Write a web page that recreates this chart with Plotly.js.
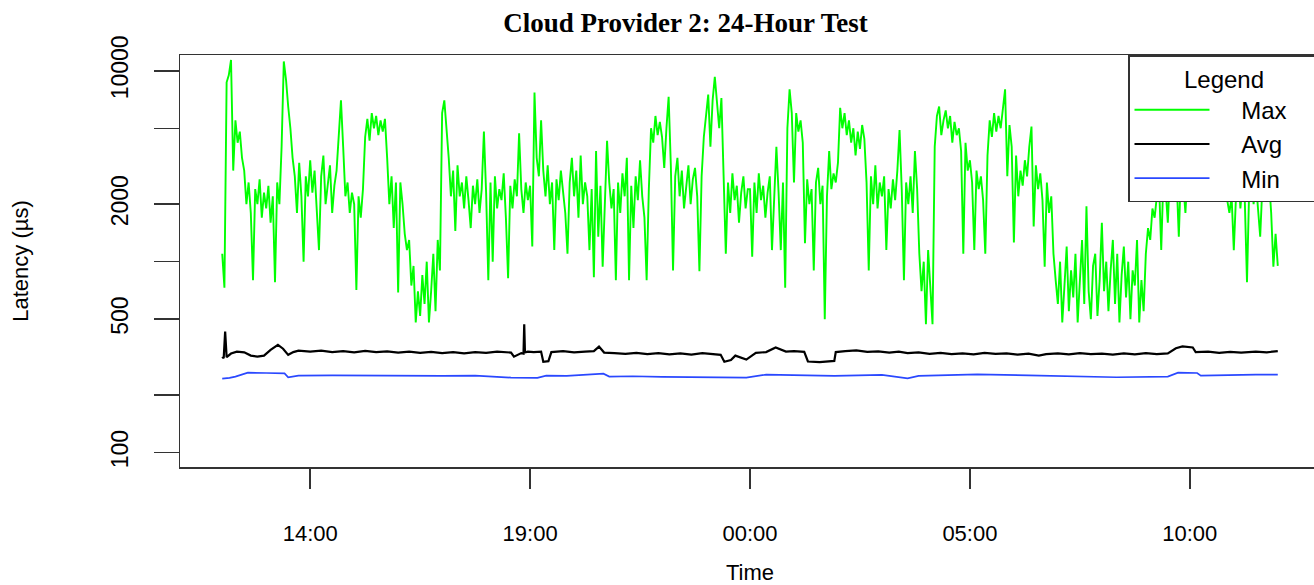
<!DOCTYPE html>
<html>
<head>
<meta charset="utf-8">
<script src="https://cdn.plot.ly/plotly-3.0.1.min.js"></script>
<style>
html,body{margin:0;padding:0;overflow:hidden;background:#fff;}
#chart{width:1330px;height:585px;}
</style>
</head>
<body>
<div id="chart"></div>
<script>
// ---- Data ----
const testStart = '2020-01-01T12:00:00Z';   // 12:00 on day 1, test runs 24 h
const maxStepMinutes = 3;                    // Max series sampled every 3 minutes

// Max latency (µs), 3-minute steps, one row per hour, 12:00 -> 12:00 next day
const maxValues = [
  1100, 730, 8700, 9500, 11400, 3000, 5500, 4200, 4800, 3500, 3000, 2000, 2600, 1800, 800, 2400, 2000, 2700, 1700, 2300,
  1900, 2500, 1600, 2200, 780, 2600, 2000, 4000, 11200, 9000, 6500, 5000, 3500, 2800, 1800, 3300, 2200, 1000, 2800, 2200,
  3400, 2300, 3000, 1900, 1150, 2800, 3600, 2000, 2600, 3200, 1800, 2500, 3000, 4500, 7000, 4000, 2200, 2600, 1800, 2300,
  2000, 710, 2200, 1700, 2400, 4500, 5600, 4300, 6000, 5000, 5800, 4600, 5500, 4800, 5600, 3500, 2000, 2800, 1500, 2600,
  690, 2600, 2000, 1400, 1150, 1300, 750, 950, 480, 700, 520, 850, 600, 1000, 480, 700, 1100, 550, 1300, 900,
  6000, 7000, 5000, 3500, 2200, 3000, 1450, 3200, 2200, 2600, 1900, 2800, 2100, 1500, 2500, 2000, 2700, 1800, 2400, 4800,
  2300, 800, 2600, 1000, 2800, 1900, 2400, 2100, 2900, 1700, 820, 2500, 1900, 2700, 2200, 4700, 2400, 1800, 2600, 2100,
  2500, 1200, 7700, 3500, 2800, 5500, 3000, 2200, 3200, 2000, 2600, 1150, 2700, 2100, 3000, 2400, 1800, 1100, 2600, 3500,
  2200, 3000, 1700, 3600, 2000, 2600, 2200, 1150, 2400, 830, 3800, 1350, 2500, 940, 2200, 4300, 2600, 1900, 2400, 800,
  2600, 1800, 2900, 2200, 3500, 800, 2500, 1500, 2800, 2100, 3400, 2200, 1700, 800, 2400, 5000, 4200, 5800, 4600, 5400,
  4500, 3100, 5000, 7300, 3200, 900, 2800, 3500, 2200, 3000, 1900, 2600, 3200, 2000, 2700, 3100, 2200, 890, 2800, 4500,
  6000, 7500, 4000, 7000, 9300, 6500, 5000, 7200, 3000, 1100, 2600, 1800, 2900, 2100, 2500, 1600, 2300, 2800, 1900, 2400,
  2400, 1060, 2600, 1800, 2900, 2100, 2500, 1700, 2300, 2800, 1150, 2000, 4000, 2300, 1150, 2600, 730, 5000, 8000, 6000,
  2600, 6000, 4800, 5500, 4200, 1250, 2700, 2000, 2400, 900, 2600, 3100, 2000, 2500, 500, 2200, 3800, 2400, 2900, 2600,
  3300, 6400, 5000, 6000, 4600, 5500, 4200, 5000, 3600, 4800, 3900, 5200, 4400, 2600, 900, 2800, 2000, 3200, 1900, 2600,
  2200, 2800, 1150, 2400, 1900, 2700, 2100, 3000, 4900, 2400, 800, 2600, 2000, 2800, 1800, 3800, 2400, 1100, 700, 1000,
  470, 1150, 700, 470, 4000, 5800, 6500, 4600, 5500, 6200, 5000, 5800, 4200, 5400, 4600, 5000, 3800, 1100, 4200, 3000,
  3400, 2600, 1150, 3000, 2400, 2800, 2100, 1100, 3600, 5500, 4500, 6000, 4800, 5800, 5000, 6500, 8000, 2800, 5200, 4000,
  1260, 3600, 2200, 3000, 2500, 3400, 2800, 4000, 5100, 1530, 3200, 2400, 2900, 2100, 940, 2600, 1800, 2200, 1100, 800,
  600, 1000, 480, 750, 1200, 550, 900, 650, 1100, 480, 800, 1300, 600, 1950, 700, 500, 950, 1100, 520, 800,
  1600, 700, 1000, 550, 900, 1300, 600, 1100, 480, 850, 1200, 650, 1000, 500, 900, 750, 1300, 480, 800, 550,
  1100, 1500, 1300, 1900, 1700, 2200, 2600, 1150, 2800, 2400, 1600, 3000, 2500, 3300, 2700, 1350, 3100, 2600, 1800, 3000,
  2700, 3400, 2500, 3900, 2900, 4200, 3100, 2600, 3600, 2800, 4400, 3200, 2500, 3700, 2900, 3300, 2400, 2100, 1800, 2200,
  1150, 2200, 3000, 1900, 2600, 2100, 780, 2400, 3100, 2000, 2700, 1900, 1350, 2500, 3000, 2200, 2700, 1800, 940, 1400,
  950
];

// Avg latency (µs) at minutes after 12:00
const avgMinutes = [0,2,4,6,12,20,30,39,48,57,66,76,83,90,97,104,120,135,150,165,180,195,210,225,240,255,270,285,300,315,330,345,360,375,394,398,408,411,412,413,417,425,435,438,445,449,465,480,495,507,514,521,535,550,565,580,595,610,625,640,655,670,680,685,694,700,715,728,742,755,762,769,780,794,799,815,835,837,850,865,880,895,910,923,935,950,965,980,995,1010,1025,1040,1055,1070,1085,1100,1114,1124,1140,1155,1170,1185,1200,1215,1230,1245,1260,1275,1290,1301,1310,1324,1328,1345,1360,1375,1390,1410,1425,1440];
const avgValues  = [318,312,430,316,330,338,335,322,318,322,345,367,350,325,336,342,338,342,336,340,335,341,336,339,334,338,333,337,332,336,331,336,333,338,334,318,332,330,470,335,338,336,338,299,301,336,340,335,338,340,359,334,332,329,333,328,332,327,331,326,332,328,325,299,305,322,307,333,336,355,348,338,340,337,300,298,302,336,340,343,337,339,334,338,332,335,329,333,328,331,327,333,329,331,326,330,322,328,331,327,332,328,330,326,331,327,332,328,331,352,360,355,336,338,333,337,334,338,335,340];

// Min latency (µs) at minutes after 12:00
const minMinutes = [0,10,18,30,35,60,85,90,104,150,200,250,300,345,394,430,442,470,500,520,528,560,600,650,694,715,742,800,835,900,935,950,1030,1100,1160,1220,1290,1304,1330,1335,1410,1440];
const minValues  = [244,246,250,258,262,261,260,248,253,254,253,254,252,253,247,246,253,252,257,259,250,251,249,248,248,247,256,254,252,255,245,252,257,254,250,248,250,262,261,253,256,256];

// Axis ticks
const xTickTimes  = ['2020-01-01 14:00', '2020-01-01 19:00', '2020-01-02 00:00', '2020-01-02 05:00', '2020-01-02 10:00'];
const xTickLabels = ['14:00', '19:00', '00:00', '05:00', '10:00'];
const yTickValues = [100, 200, 500, 1000, 2000, 5000, 10000];
const yTickLabels = ['100', '', '500', '', '2000', '', '10000'];

// ---- helpers ----
const startMs = Date.parse(testStart);
function fmt(ms) {
  const d = new Date(ms);
  const p = n => String(n).padStart(2, '0');
  return d.getUTCFullYear() + '-' + p(d.getUTCMonth() + 1) + '-' + p(d.getUTCDate()) + ' ' +
         p(d.getUTCHours()) + ':' + p(d.getUTCMinutes()) + ':' + p(d.getUTCSeconds());
}
const minuteToTime = m => fmt(startMs + m * 60000);
const maxTimes = maxValues.map((_, i) => minuteToTime(i * maxStepMinutes));
const avgTimes = avgMinutes.map(minuteToTime);
const minTimes = minMinutes.map(minuteToTime);

const sans = 'Liberation Sans, Arial, sans-serif';
const nb = '\u00a0';
const legendName = s => nb.repeat(4) + s + nb.repeat(4);

const traces = [
  {x: maxTimes, y: maxValues, type: 'scatter', mode: 'lines', name: legendName('Max'),
   line: {color: '#00ff00', width: 1.9}},
  {x: avgTimes, y: avgValues, type: 'scatter', mode: 'lines', name: legendName('Avg'),
   line: {color: '#000000', width: 2.2}},
  {x: minTimes, y: minValues, type: 'scatter', mode: 'lines', name: legendName('Min'),
   line: {color: '#2a48ff', width: 1.7}}
];

const layout = {
  width: 1330, height: 585,
  margin: {l: 180, r: 10, t: 55, b: 118},
  paper_bgcolor: '#ffffff', plot_bgcolor: '#ffffff',
  title: {text: 'Cloud Provider 2: 24-Hour Test', x: 0.4434, xref: 'paper', xanchor: 'center',
          y: 0.961, yanchor: 'middle',
          font: {family: 'Liberation Serif, Times New Roman, serif', size: 27, color: '#000', weight: 'bold'}},
  xaxis: {
    type: 'date',
    range: ['2020-01-01 11:02:24', '2020-01-02 12:57:36'],
    tickmode: 'array', tickvals: xTickTimes, ticktext: xTickLabels,
    ticks: 'outside', ticklen: 20, tickwidth: 1.5, tickcolor: '#333',
    ticklabelstandoff: 26,
    showgrid: false, zeroline: false,
    showline: true, linecolor: '#333', linewidth: 1.5, mirror: true,
    tickfont: {family: sans, size: 22, color: '#000'},
    title: {text: 'Time', font: {family: sans, size: 22, color: '#000'}, standoff: 20}
  },
  yaxis: {
    type: 'log',
    range: [Math.log10(84), Math.log10(12100)],
    tickmode: 'array', tickvals: yTickValues, ticktext: yTickLabels,
    tickangle: -90,
    ticks: 'outside', ticklen: 25, tickwidth: 1.5, tickcolor: '#333',
    ticklabelstandoff: 16,
    showgrid: false, zeroline: false,
    showline: true, linecolor: '#333', linewidth: 1.5, mirror: true,
    tickfont: {family: sans, size: 23, color: '#000'},
    title: {text: 'Latency (µs)', font: {family: sans, size: 22, color: '#000'}, standoff: 72}
  },
  showlegend: true,
  legend: {
    x: 1, xanchor: 'right', y: 1, yanchor: 'top',
    bgcolor: '#ffffff', bordercolor: '#333', borderwidth: 1.5,
    font: {family: sans, size: 24, color: '#000'},
    title: {text: 'Legend', side: 'top center', font: {family: sans, size: 24, color: '#000'}},
    itemwidth: 75,
    tracegroupgap: 0
  }
};

Plotly.newPlot('chart', traces, layout, {displayModeBar: false, staticPlot: true});
</script>
</body>
</html>
